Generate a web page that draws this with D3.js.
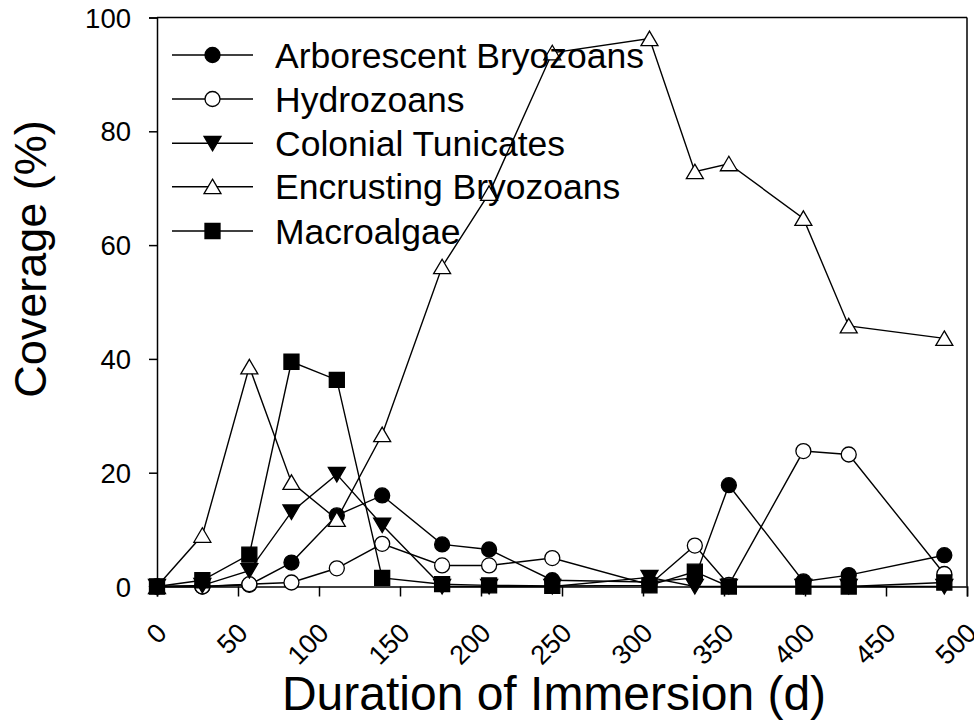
<!DOCTYPE html>
<html>
<head>
<meta charset="utf-8">
<script src="https://cdn.jsdelivr.net/npm/d3@7"></script>
<style>
  html, body { margin: 0; padding: 0; background: #fff; }
  svg { display: block; font-family: "Liberation Sans", Arial, Helvetica, sans-serif; }
</style>
</head>
<body>
<svg id="chart" width="974" height="728"></svg>
<script>
// ---- data ----
const days = [0, 28, 57, 83, 111, 139, 176, 205, 244, 304, 332, 353, 399, 427, 486];
const arborescent = [0, 0, 0.3, 4.2, 12.5, 16.0, 7.4, 6.5, 1.1, 0.8, 1.5, 17.8, 0.9, 2.0, 5.5];
const hydrozoans  = [0, 0, 0.4, 0.7, 3.2, 7.5, 3.7, 3.7, 5.0, 0.3, 7.2, 0.3, 23.8, 23.2, 2.2];
const tunicates   = [0, 0.2, 2.8, 13.1, 19.7, 10.8, 0, 0, 0, 1.6, 0, 0, 0, 0, 0];
const encrusting  = [0, 9.0, 38.6, 18.3, 11.8, 26.7, 56.2, 69.1, 93.8, 96.3, 72.9, 74.3, 64.7, 45.8, 43.6];
const macroalgae  = [0, 1.1, 5.6, 39.5, 36.3, 1.5, 0.4, 0.2, 0.1, 0.2, 2.6, 0, 0, 0, 0.7];
const seriesNames = ["Arborescent Bryozoans", "Hydrozoans", "Colonial Tunicates", "Encrusting Bryozoans", "Macroalgae"];
const seriesMarkers = ["circleFilled", "circleOpen", "triDownFilled", "triUpOpen", "squareFilled"];
const xTicks = [0, 50, 100, 150, 200, 250, 300, 350, 400, 450, 500];
const yTicks = [0, 20, 40, 60, 80, 100];
const xTitle = "Duration of Immersion (d)";
const yTitle = "Coverage (%)";

const seriesValues = [arborescent, hydrozoans, tunicates, encrusting, macroalgae];

// ---- layout ----
const svg = d3.select("#chart");
const L = 157, R = 967, T = 17.5, B = 586.5;
const x = d3.scaleLinear().domain([0, 500]).range([L, R]);
const y = d3.scaleLinear().domain([0, 100]).range([B, T]);

function markerPath(type) {
  switch (type) {
    case "circleFilled":
    case "circleOpen": {
      const p = d3.path(); p.arc(0, 0, 7.5, 0, 2 * Math.PI); return p.toString();
    }
    case "triUpOpen": return "M0,-7.5L8.5,7L-8.5,7Z";
    case "triDownFilled": return "M0,7.5L8.5,-7L-8.5,-7Z";
    case "squareFilled": return "M-7.5,-7.5H7.5V7.5H-7.5Z";
  }
}
function markerFill(type) {
  return (type === "circleOpen" || type === "triUpOpen") ? "#fff" : "#000";
}

// frame (top & right)
svg.append("line").attr("x1", L).attr("x2", R).attr("y1", T).attr("y2", T)
  .attr("stroke", "#000").attr("stroke-width", 1.5);
svg.append("line").attr("x1", R).attr("x2", R).attr("y1", T).attr("y2", B)
  .attr("stroke", "#000").attr("stroke-width", 1.5);

// axes
const yAxis = d3.axisLeft(y).tickValues(yTicks).tickSize(8).tickPadding(18).tickFormat(d3.format("d"));
const gy = svg.append("g").attr("transform", `translate(${L},0)`).call(yAxis);
gy.select(".domain").attr("stroke-width", 1.5);
gy.selectAll(".tick line").attr("stroke-width", 1.5);
gy.selectAll(".tick text").attr("font-size", 27.5).attr("fill", "#000")
  .attr("font-family", "Liberation Sans, Arial, sans-serif").attr("dy", "0.35em");

const xAxis = d3.axisBottom(x).tickValues(xTicks).tickSize(10).tickFormat(d3.format("d"));
const gx = svg.append("g").attr("transform", `translate(0,${B})`).call(xAxis);
gx.select(".domain").attr("stroke-width", 1.5);
gx.selectAll(".tick line").attr("stroke-width", 1.5);
gx.selectAll(".tick text")
  .attr("font-size", 27).attr("fill", "#000")
  .attr("font-family", "Liberation Sans, Arial, sans-serif")
  .attr("text-anchor", "end")
  .attr("y", 0).attr("dy", 0)
  .attr("transform", "translate(11,48) rotate(-45)");

// series
const line = d3.line().x(d => x(d[0])).y(d => y(d[1]));
seriesValues.forEach((vals, i) => {
  const pts = days.map((d, j) => [d, vals[j]]);
  const g = svg.append("g");
  g.append("path").attr("d", line(pts)).attr("fill", "none")
    .attr("stroke", "#000").attr("stroke-width", 1.4);
  g.selectAll("path.m").data(pts).enter().append("path")
    .attr("class", "m")
    .attr("d", markerPath(seriesMarkers[i]))
    .attr("transform", d => `translate(${x(d[0])},${y(d[1])})`)
    .attr("fill", markerFill(seriesMarkers[i]))
    .attr("stroke", "#000").attr("stroke-width", 1.3);
});

// legend
const legY = [55, 99, 143.3, 186.7, 231];
const lg = svg.append("g");
seriesNames.forEach((name, i) => {
  const yy = legY[i];
  lg.append("line").attr("x1", 172).attr("x2", 253).attr("y1", yy).attr("y2", yy)
    .attr("stroke", "#000").attr("stroke-width", 1.4);
  lg.append("path").attr("d", markerPath(seriesMarkers[i]))
    .attr("transform", `translate(212.5,${yy})`)
    .attr("fill", markerFill(seriesMarkers[i]))
    .attr("stroke", "#000").attr("stroke-width", 1.3);
  lg.append("text").attr("x", 275).attr("y", yy + 12.5).attr("font-size", 35.5)
    .attr("fill", "#000").text(name);
});

// titles
svg.append("text").attr("x", (L + R) / 2 - 8).attr("y", 710).attr("text-anchor", "middle")
  .attr("font-size", 48).attr("fill", "#000").text(xTitle);
svg.append("text").attr("transform", `translate(46,259) rotate(-90)`).attr("text-anchor", "middle")
  .attr("font-size", 45).attr("fill", "#000").text(yTitle);
</script>
</body>
</html>
